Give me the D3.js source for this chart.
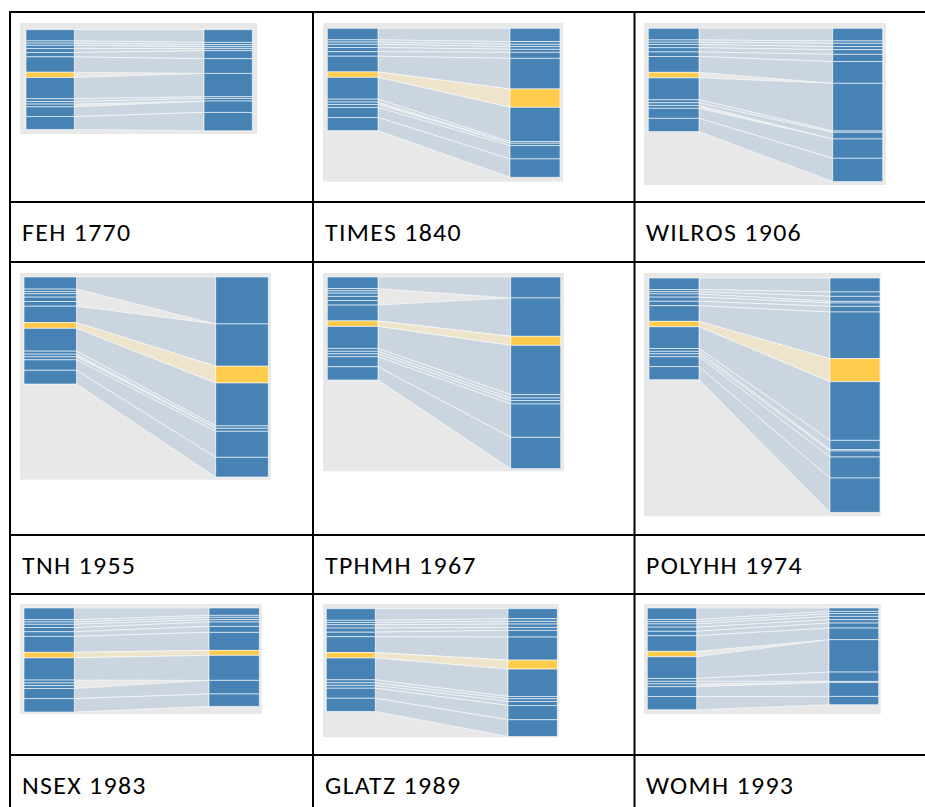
<!DOCTYPE html>
<html><head><meta charset="utf-8">
<script src="https://cdn.jsdelivr.net/npm/d3@7"></script>
<style>body{margin:0;background:#fff}svg{display:block}</style>
</head><body><svg id="chart" width="925" height="807"></svg>
<script>
// ---------- DATA ----------
const categories = ["c01","c02","c03","c04","c05","c06","c07","c08","c09","c10","c11","c12","c13","c14"];
const highlightCategory = "c08";
// reference distribution (left column, identical in every panel)
const baseValues = [36, 7, 7, 10, 13, 14, 49, 17, 68, 9, 8, 9, 31, 41];
// each dictionary's distribution (right column), same category order
const feh1770    = [40.5, 7.5, 6.4, 6.4, 6.4, 25.6, 47, 0, 74.7, 5.3, 8.5, 0, 36.3, 58.7];
const times1840  = [41.6, 8.3, 7.3, 8.3, 9.4, 18.7, 95.6, 57.1, 107, 5.2, 0, 7.3, 41.6, 57.1];
const wilros1906 = [39.1, 7.2, 10.3, 9.3, 14.4, 22.6, 66.9, 0, 147.2, 4.1, 20.6, 0, 59.7, 72];
const tnh1955    = [140, 0, 0, 0, 0, 0, 126, 50, 128, 7, 0, 9, 77.5, 58.7];
const tphmh1967  = [65, 0, 0, 0, 0, 0, 118.7, 27.9, 152.8, 10.3, 8.3, 10.3, 103.2, 97];
const polyhh1974 = [43.9, 13.6, 15.7, 5.2, 10.5, 17.8, 146.4, 72.1, 184, 29.3, 4.2, 18.8, 65.9, 107.7];
const nsex1983   = [22.5, 6.1, 7.2, 7.2, 13.3, 18.4, 55.2, 15.3, 76.7, 0, 0, 0, 41.9, 37.8];
const glatz1989  = [31.1, 8.3, 8.3, 10.4, 9.3, 20.7, 71.5, 28, 84.9, 7.3, 8.3, 12.4, 44.5, 51.8];
const womh1993   = [10.5, 7.3, 8.4, 10.5, 10.5, 15.7, 36.6, 0, 101.4, 29.3, 3.1, 0, 43.9, 26.1];
const panelLabels = ["FEH 1770","TIMES 1840","WILROS 1906","TNH 1955","TPHMH 1967","POLYHH 1974","NSEX 1983","GLATZ 1989","WOMH 1993"];
const panelValues = [feh1770, times1840, wilros1906, tnh1955, tphmh1967, polyhh1974, nsex1983, glatz1989, womh1993];

// ---------- LAYOUT (pixels) ----------
const panelLayout = [
  {bg:[20,23,257,134],    top:29.7,  lx:[26,74.3],    rx:[204,252.3],   lh:99.7},
  {bg:[323,23,563,181.7], top:28.3,  lx:[327.3,378],  rx:[510,560],     lh:102.3},
  {bg:[644,23,886,185],   top:28.3,  lx:[648.3,699],  rx:[832.7,882.7], lh:103.3},
  {bg:[20,273,271,479.7], top:277,   lx:[24,76.5],    rx:[215.7,268.3], lh:107},
  {bg:[323,273,564,471.3],top:277,   lx:[327.3,378],  rx:[510.7,560.7], lh:103},
  {bg:[644,273,880.7,516.3],top:278, lx:[649,699],    rx:[830,880],     lh:101.7},
  {bg:[20,604,261.7,714], top:608,   lx:[24,74.3],    rx:[209,259.3],   lh:104},
  {bg:[323,604,558.7,737.3],top:608.7,lx:[326.3,375.3],rx:[508,557.3],  lh:102.7},
  {bg:[644,604,880.7,714],top:608,   lx:[647.3,696.7],rx:[829,878.7],   lh:101.7}
];
const gridX = [10, 313, 634.5];
const gridY = [12, 202, 262, 535, 594, 755];
const labelBase = [240.5, 573.5, 794];
const labelX = [22, 325, 646];

const COL = {bg:"#e8e8e8", seg:"#4682b4", hi:"#ffcb4c", flow:"#cad5df", hiFlow:"#eee4cb"};

const svg = d3.select("#chart");
svg.append("rect").attr("width",925).attr("height",807).attr("fill","#fff");

const hiIdx = categories.indexOf(highlightCategory);
const leftTotal = d3.sum(baseValues);

function offsets(vals){ const c = d3.cumsum(vals); return vals.map((v,i)=>[c[i]-v, c[i]]); }

panelValues.forEach((vals, p) => {
  const L = panelLayout[p];
  const g = svg.append("g");
  g.append("rect").attr("x",L.bg[0]).attr("y",L.bg[1])
    .attr("width",L.bg[2]-L.bg[0]).attr("height",L.bg[3]-L.bg[1]).attr("fill",COL.bg);
  const y = d3.scaleLinear().domain([0,leftTotal]).range([L.top, L.top+L.lh]);
  const lo = offsets(baseValues), ro = offsets(vals);
  const line = d3.line();
  // flows
  categories.forEach((c,i) => {
    if (baseValues[i] <= 0 || vals[i] <= 0) return;
    const pts = [[L.lx[1], y(lo[i][0])],[L.rx[0], y(ro[i][0])],[L.rx[0], y(ro[i][1])],[L.lx[1], y(lo[i][1])]];
    g.append("path").attr("d", line(pts)+"Z")
      .attr("fill", i===hiIdx ? COL.hiFlow : COL.flow)
      .attr("stroke","#fff").attr("stroke-opacity",0.7).attr("stroke-width",0.8);
  });
  // columns
  [[baseValues,lo,L.lx],[vals,ro,L.rx]].forEach(([vv,oo,xx]) => {
    g.selectAll(null).data(categories.map((c,i)=>({i,v:vv[i],o:oo[i]})).filter(d=>d.v>0))
      .enter().append("rect")
      .attr("x",xx[0]).attr("width",xx[1]-xx[0])
      .attr("y",d=>y(d.o[0])).attr("height",d=>y(d.o[1])-y(d.o[0]))
      .attr("fill",d=>d.i===hiIdx?COL.hi:COL.seg)
      .attr("stroke","#fff").attr("stroke-opacity",0.65).attr("stroke-width",0.9);
  });
  // label
  svg.append("text")
    .attr("transform",`translate(${labelX[p%3]},${labelBase[Math.floor(p/3)]}) scale(1.08,1)`)
    .attr("font-family","Carlito, Calibri, Lato, sans-serif").attr("font-size",24)
    .attr("letter-spacing",1.2)
    .attr("fill","#000").text(panelLabels[p]);
});

// table grid
gridX.forEach(x => svg.append("line").attr("x1",x).attr("x2",x).attr("y1",11).attr("y2",807)
  .attr("stroke","#000").attr("stroke-width",2));
gridY.forEach(yy => svg.append("line").attr("x1",9).attr("x2",925).attr("y1",yy).attr("y2",yy)
  .attr("stroke","#000").attr("stroke-width",2));
</script></body></html>
